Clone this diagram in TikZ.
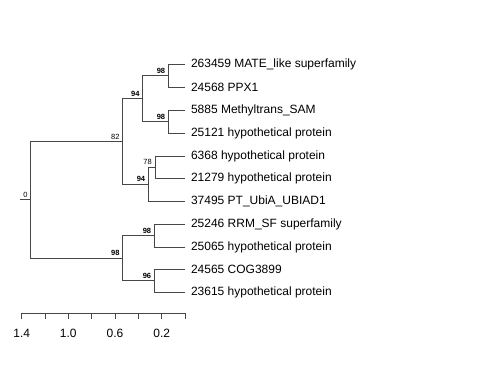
\documentclass[tikz,border=0pt]{standalone}
\usepackage{fontspec}
\setmainfont{Liberation Sans}
\begin{document}
\begin{tikzpicture}[x=1pt,y=-1pt,
  edge/.style={draw=black!72,line width=0.8pt},
  tip/.style={anchor=west,inner xsep=0pt,outer xsep=6pt,inner ysep=1pt,font=\fontsize{12}{14}\selectfont},
  boot/.style={anchor=south east,inner sep=0pt,xshift=-3pt,yshift=2pt,font=\fontsize{7.5}{9}\selectfont\bfseries},
  bootn/.style={anchor=south east,inner sep=0pt,xshift=-3pt,yshift=2pt,font=\fontsize{7.5}{9}\selectfont},
  axlab/.style={anchor=center,font=\fontsize{12}{14}\selectfont}]
\useasboundingbox (0,0) rectangle (480,384);
% tips
\node[tip] (t1) at (185,64) {263459 MATE\_like superfamily};
\node[tip] (t2) at (185,87) {24568 PPX1};
\node[tip] (t3) at (185,110) {5885 Methyltrans\_SAM};
\node[tip] (t4) at (185,133) {25121 hypothetical protein};
\node[tip] (t5) at (185,156) {6368 hypothetical protein};
\node[tip] (t6) at (185,178.5) {21279 hypothetical protein};
\node[tip] (t7) at (185,201) {37495 PT\_UbiA\_UBIAD1};
\node[tip] (t8) at (185,224) {25246 RRM\_SF superfamily};
\node[tip] (t9) at (185,247) {25065 hypothetical protein};
\node[tip] (t10) at (185,269.5) {24565 COG3899};
\node[tip] (t11) at (185,292) {23615 hypothetical protein};
% internal nodes
\coordinate (n98a) at (168.3,75.5);
\coordinate (n98b) at (168.3,121.5);
\coordinate (n94a) at (142.7,98.5);
\coordinate (n78) at (155,167.25);
\coordinate (n94b) at (148.3,184.1);
\coordinate (n82) at (122.7,141.3);
\coordinate (n98c) at (154.3,235.5);
\coordinate (n96) at (154.3,280.75);
\coordinate (n98d) at (122.7,258.1);
\coordinate (root) at (30.7,199.7);
\coordinate (rootstub) at (20,199.7);
% edges
\draw[edge] (rootstub) -- (root);
\draw[edge] (root) |- (n82);
\draw[edge] (root) |- (n98d);
\draw[edge] (n82) |- (n94a);
\draw[edge] (n82) |- (n94b);
\draw[edge] (n94a) |- (n98a);
\draw[edge] (n94a) |- (n98b);
\draw[edge] (n98a) |- (t1.west);
\draw[edge] (n98a) |- (t2.west);
\draw[edge] (n98b) |- (t3.west);
\draw[edge] (n98b) |- (t4.west);
\draw[edge] (n94b) |- (n78);
\draw[edge] (n94b) |- (t7.west);
\draw[edge] (n78) |- (t5.west);
\draw[edge] (n78) |- (t6.west);
\draw[edge] (n98d) |- (n98c);
\draw[edge] (n98d) |- (n96);
\draw[edge] (n98c) |- (t8.west);
\draw[edge] (n98c) |- (t9.west);
\draw[edge] (n96) |- (t10.west);
\draw[edge] (n96) |- (t11.west);
% support labels
\node[bootn] (l0) at (root) {0};
\node[bootn] (l82) at (n82) {82};
\node[boot] (l94a) at (n94a) {94};
\node[boot] (l98a) at (n98a) {98};
\node[boot] (l98b) at (n98b) {98};
\node[bootn] (l78) at (n78) {78};
\node[boot] (l94b) at (n94b) {94};
\node[boot] (l98d) at (n98d) {98};
\node[boot] (l98c) at (n98c) {98};
\node[boot] (l96) at (n96) {96};
% axis
\foreach \i/\x in {0/21.7,1/45,2/68.3,3/91.7,4/115,5/138.3,6/161.7,7/185}{
  \coordinate (a\i) at (\x,313);
  \coordinate (b\i) at (\x,319);
  \draw[edge] (a\i) -- (b\i);
}
\draw[edge] (a0) -- (a7);
\node[axlab] (x14) at (21.7,333) {1.4};
\node[axlab] (x10) at (68.3,333) {1.0};
\node[axlab] (x06) at (115,333) {0.6};
\node[axlab] (x02) at (161.7,333) {0.2};
\end{tikzpicture}
\end{document}
